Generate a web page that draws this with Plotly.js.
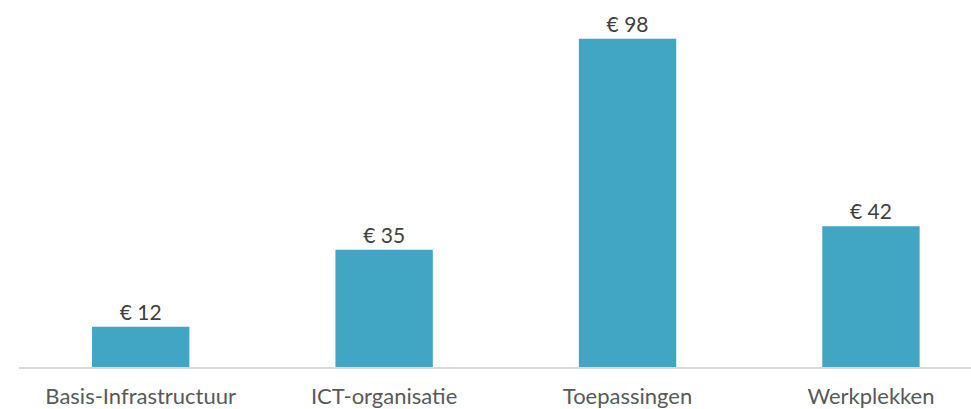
<!DOCTYPE html>
<html><head><meta charset="utf-8">
<script src="https://cdn.plot.ly/plotly-3.0.1.min.js"></script>
<style>html,body{margin:0;padding:0;background:#fff;}#chart{width:971px;height:409px;}</style>
</head><body><div id="chart"></div>
<script>
const categories = ["Basis-Infrastructuur", "ICT-organisatie", "Toepassingen", "Werkplekken"];
const values = [12, 35, 98, 42];
const valueLabels = ["€ 12", "€ 35", "€ 98", "€ 42"];

Plotly.newPlot("chart", [{
  type: "bar",
  x: categories,
  y: values,
  text: valueLabels,
  textposition: "outside",
  cliponaxis: false,
  textfont: {family: "Lato, 'Open Sans', sans-serif", size: 21, color: "#404040"},
  marker: {color: "#41A5C4"},
  width: 0.4,
  hoverinfo: "none"
}], {
  width: 971, height: 409,
  margin: {l: 19, r: 0, t: 0, b: 42},
  paper_bgcolor: "#fff", plot_bgcolor: "#fff",
  showlegend: false,
  xaxis: {range: [-0.5, 3.411], showline: true, linecolor: "#D9D9D9", linewidth: 2,
          showgrid: false, zeroline: false, ticks: "", ticklabelstandoff: 9,
          tickfont: {family: "Lato, 'Open Sans', sans-serif", size: 22, color: "#595959"}},
  yaxis: {range: [0, 109.6], visible: false, showgrid: false, zeroline: false}
}, {displayModeBar: false, staticPlot: true});
</script></body></html>
